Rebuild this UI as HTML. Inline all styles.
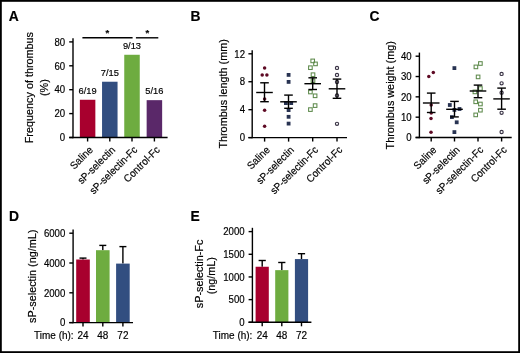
<!DOCTYPE html>
<html><head><meta charset="utf-8"><style>
html,body{margin:0;padding:0;background:#fff;}
body{width:520px;height:353px;overflow:hidden;}
svg{display:block;font-family:"Liberation Sans", sans-serif;will-change:transform;}
text{stroke:#000;stroke-width:0.18px;paint-order:stroke;}
</style></head><body>
<svg width="520" height="353" viewBox="0 0 520 353" fill="#000">
<rect x="0" y="0" width="520" height="353" fill="#fff"/>
<text transform="translate(8.70 20.60) scale(0.95 1)" font-size="14.6" text-anchor="start" font-weight="bold">A</text>
<line x1="73.00" y1="38.20" x2="73.00" y2="138.20" stroke="#000" stroke-width="1.4"/>
<line x1="69.20" y1="137.50" x2="73.00" y2="137.50" stroke="#000" stroke-width="1.4"/>
<text transform="translate(65.20 141.20) scale(0.96 1)" font-size="10.0" text-anchor="end" font-weight="normal">0</text>
<line x1="69.20" y1="113.60" x2="73.00" y2="113.60" stroke="#000" stroke-width="1.4"/>
<text transform="translate(65.20 117.30) scale(0.96 1)" font-size="10.0" text-anchor="end" font-weight="normal">20</text>
<line x1="69.20" y1="89.70" x2="73.00" y2="89.70" stroke="#000" stroke-width="1.4"/>
<text transform="translate(65.20 93.40) scale(0.96 1)" font-size="10.0" text-anchor="end" font-weight="normal">40</text>
<line x1="69.20" y1="65.80" x2="73.00" y2="65.80" stroke="#000" stroke-width="1.4"/>
<text transform="translate(65.20 69.50) scale(0.96 1)" font-size="10.0" text-anchor="end" font-weight="normal">60</text>
<line x1="69.20" y1="41.90" x2="73.00" y2="41.90" stroke="#000" stroke-width="1.4"/>
<text transform="translate(65.20 45.60) scale(0.96 1)" font-size="10.0" text-anchor="end" font-weight="normal">80</text>
<rect x="79.85" y="99.76" width="15.50" height="37.74" fill="#a8002e"/>
<text transform="translate(87.60 93.96) scale(0.96 1)" font-size="9.7" text-anchor="middle" font-weight="normal">6/19</text>
<rect x="102.05" y="81.73" width="15.50" height="55.77" fill="#324e80"/>
<text transform="translate(109.80 75.93) scale(0.96 1)" font-size="9.7" text-anchor="middle" font-weight="normal">7/15</text>
<rect x="124.25" y="54.77" width="15.50" height="82.73" fill="#6eac40"/>
<text transform="translate(132.00 48.97) scale(0.96 1)" font-size="9.7" text-anchor="middle" font-weight="normal">9/13</text>
<rect x="146.65" y="100.16" width="15.50" height="37.34" fill="#5a2869"/>
<text transform="translate(154.40 94.36) scale(0.96 1)" font-size="9.7" text-anchor="middle" font-weight="normal">5/16</text>
<line x1="69.20" y1="137.50" x2="167.60" y2="137.50" stroke="#000" stroke-width="1.4"/>
<line x1="87.60" y1="137.50" x2="87.60" y2="141.50" stroke="#000" stroke-width="1.4"/>
<line x1="109.80" y1="137.50" x2="109.80" y2="141.50" stroke="#000" stroke-width="1.4"/>
<line x1="132.00" y1="137.50" x2="132.00" y2="141.50" stroke="#000" stroke-width="1.4"/>
<line x1="154.40" y1="137.50" x2="154.40" y2="141.50" stroke="#000" stroke-width="1.4"/>
<line x1="82.40" y1="37.80" x2="132.60" y2="37.80" stroke="#000" stroke-width="1.4"/>
<line x1="135.90" y1="37.80" x2="158.30" y2="37.80" stroke="#000" stroke-width="1.4"/>
<text transform="translate(107.30 36.20)" font-size="9.5" text-anchor="middle" font-weight="bold">*</text>
<text transform="translate(147.40 36.20)" font-size="9.5" text-anchor="middle" font-weight="bold">*</text>
<text transform="translate(33.40 87.60) rotate(-90) scale(0.95 1)" font-size="11.4" text-anchor="middle" font-weight="normal">Frequency of thrombus</text>
<text transform="translate(47.60 87.60) rotate(-90) scale(0.95 1)" font-size="11.4" text-anchor="middle" font-weight="normal">(%)</text>
<text transform="translate(93.60 150.50) rotate(-45) scale(0.95 1)" font-size="10.4" text-anchor="end" font-weight="normal">Saline</text>
<text transform="translate(115.80 150.50) rotate(-45) scale(0.95 1)" font-size="10.4" text-anchor="end" font-weight="normal">sP-selectin</text>
<text transform="translate(138.00 150.50) rotate(-45) scale(0.95 1)" font-size="10.4" text-anchor="end" font-weight="normal">sP-selectin-Fc</text>
<text transform="translate(160.40 150.50) rotate(-45) scale(0.95 1)" font-size="10.4" text-anchor="end" font-weight="normal">Control-Fc</text>
<text transform="translate(190.50 20.60) scale(0.95 1)" font-size="14.6" text-anchor="start" font-weight="bold">B</text>
<line x1="252.20" y1="50.20" x2="252.20" y2="138.30" stroke="#000" stroke-width="1.4"/>
<line x1="248.40" y1="137.60" x2="252.20" y2="137.60" stroke="#000" stroke-width="1.4"/>
<text transform="translate(245.00 141.30) scale(0.96 1)" font-size="10.0" text-anchor="end" font-weight="normal">0</text>
<line x1="248.40" y1="109.67" x2="252.20" y2="109.67" stroke="#000" stroke-width="1.4"/>
<text transform="translate(245.00 113.37) scale(0.96 1)" font-size="10.0" text-anchor="end" font-weight="normal">4</text>
<line x1="248.40" y1="81.73" x2="252.20" y2="81.73" stroke="#000" stroke-width="1.4"/>
<text transform="translate(245.00 85.43) scale(0.96 1)" font-size="10.0" text-anchor="end" font-weight="normal">8</text>
<line x1="248.40" y1="53.80" x2="252.20" y2="53.80" stroke="#000" stroke-width="1.4"/>
<text transform="translate(245.00 57.50) scale(0.96 1)" font-size="10.0" text-anchor="end" font-weight="normal">12</text>
<line x1="248.40" y1="137.60" x2="347.00" y2="137.60" stroke="#000" stroke-width="1.4"/>
<line x1="264.60" y1="137.60" x2="264.60" y2="141.60" stroke="#000" stroke-width="1.4"/>
<line x1="288.60" y1="137.60" x2="288.60" y2="141.60" stroke="#000" stroke-width="1.4"/>
<line x1="312.70" y1="137.60" x2="312.70" y2="141.60" stroke="#000" stroke-width="1.4"/>
<line x1="337.00" y1="137.60" x2="337.00" y2="141.60" stroke="#000" stroke-width="1.4"/>
<text transform="translate(226.60 93.90) rotate(-90) scale(0.95 1)" font-size="11.4" text-anchor="middle" font-weight="normal">Thrombus length (mm)</text>
<text transform="translate(270.60 150.60) rotate(-45) scale(0.95 1)" font-size="10.4" text-anchor="end" font-weight="normal">Saline</text>
<text transform="translate(294.60 150.60) rotate(-45) scale(0.95 1)" font-size="10.4" text-anchor="end" font-weight="normal">sP-selectin</text>
<text transform="translate(318.70 150.60) rotate(-45) scale(0.95 1)" font-size="10.4" text-anchor="end" font-weight="normal">sP-selectin-Fc</text>
<text transform="translate(343.00 150.60) rotate(-45) scale(0.95 1)" font-size="10.4" text-anchor="end" font-weight="normal">Control-Fc</text>
<circle cx="264.60" cy="68.10" r="1.75" fill="#5e0a24"/>
<circle cx="262.20" cy="75.10" r="1.75" fill="#5e0a24"/>
<circle cx="266.90" cy="75.10" r="1.75" fill="#5e0a24"/>
<circle cx="264.60" cy="99.00" r="1.75" fill="#5e0a24"/>
<circle cx="264.60" cy="110.20" r="1.75" fill="#5e0a24"/>
<circle cx="264.60" cy="126.30" r="1.75" fill="#5e0a24"/>
<rect x="286.70" y="73.00" width="3.8" height="3.8" fill="#283352"/>
<rect x="286.70" y="80.00" width="3.8" height="3.8" fill="#283352"/>
<rect x="284.00" y="101.20" width="3.8" height="3.8" fill="#283352"/>
<rect x="289.30" y="101.20" width="3.8" height="3.8" fill="#283352"/>
<rect x="286.70" y="108.20" width="3.8" height="3.8" fill="#283352"/>
<rect x="286.70" y="114.90" width="3.8" height="3.8" fill="#283352"/>
<rect x="286.70" y="121.70" width="3.8" height="3.8" fill="#283352"/>
<rect x="310.90" y="59.10" width="3.6" height="3.6" fill="none" stroke="#5e8a4c" stroke-width="1.05"/>
<rect x="313.70" y="62.10" width="3.6" height="3.6" fill="none" stroke="#5e8a4c" stroke-width="1.05"/>
<rect x="308.60" y="65.90" width="3.6" height="3.6" fill="none" stroke="#5e8a4c" stroke-width="1.05"/>
<rect x="311.20" y="72.90" width="3.6" height="3.6" fill="none" stroke="#5e8a4c" stroke-width="1.05"/>
<rect x="311.20" y="78.90" width="3.6" height="3.6" fill="none" stroke="#5e8a4c" stroke-width="1.05"/>
<rect x="308.60" y="90.20" width="3.6" height="3.6" fill="none" stroke="#5e8a4c" stroke-width="1.05"/>
<rect x="313.30" y="94.00" width="3.6" height="3.6" fill="none" stroke="#5e8a4c" stroke-width="1.05"/>
<rect x="313.30" y="103.80" width="3.6" height="3.6" fill="none" stroke="#5e8a4c" stroke-width="1.05"/>
<rect x="308.60" y="107.80" width="3.6" height="3.6" fill="none" stroke="#5e8a4c" stroke-width="1.05"/>
<circle cx="337.00" cy="67.90" r="1.6" fill="none" stroke="#3a3446" stroke-width="1.15"/>
<circle cx="337.00" cy="74.90" r="1.6" fill="none" stroke="#3a3446" stroke-width="1.15"/>
<circle cx="337.00" cy="81.90" r="1.6" fill="none" stroke="#3a3446" stroke-width="1.15"/>
<circle cx="337.00" cy="95.40" r="1.6" fill="none" stroke="#3a3446" stroke-width="1.15"/>
<circle cx="337.00" cy="123.80" r="1.6" fill="none" stroke="#3a3446" stroke-width="1.15"/>
<line x1="256.20" y1="92.50" x2="272.80" y2="92.50" stroke="#000" stroke-width="1.4"/>
<line x1="264.50" y1="82.80" x2="264.50" y2="101.70" stroke="#000" stroke-width="1.4"/>
<line x1="260.20" y1="82.80" x2="268.80" y2="82.80" stroke="#000" stroke-width="1.4"/>
<line x1="260.20" y1="101.70" x2="268.80" y2="101.70" stroke="#000" stroke-width="1.4"/>
<line x1="280.20" y1="101.80" x2="296.80" y2="101.80" stroke="#000" stroke-width="1.4"/>
<line x1="288.50" y1="95.10" x2="288.50" y2="108.30" stroke="#000" stroke-width="1.4"/>
<line x1="284.20" y1="95.10" x2="292.80" y2="95.10" stroke="#000" stroke-width="1.4"/>
<line x1="284.20" y1="108.30" x2="292.80" y2="108.30" stroke="#000" stroke-width="1.4"/>
<line x1="304.40" y1="83.70" x2="321.00" y2="83.70" stroke="#000" stroke-width="1.4"/>
<line x1="312.70" y1="77.80" x2="312.70" y2="89.50" stroke="#000" stroke-width="1.4"/>
<line x1="308.40" y1="77.80" x2="317.00" y2="77.80" stroke="#000" stroke-width="1.4"/>
<line x1="308.40" y1="89.50" x2="317.00" y2="89.50" stroke="#000" stroke-width="1.4"/>
<line x1="328.70" y1="88.80" x2="345.30" y2="88.80" stroke="#000" stroke-width="1.4"/>
<line x1="337.00" y1="79.10" x2="337.00" y2="98.30" stroke="#000" stroke-width="1.4"/>
<line x1="332.70" y1="79.10" x2="341.30" y2="79.10" stroke="#000" stroke-width="1.4"/>
<line x1="332.70" y1="98.30" x2="341.30" y2="98.30" stroke="#000" stroke-width="1.4"/>
<text transform="translate(369.50 20.60) scale(0.95 1)" font-size="14.6" text-anchor="start" font-weight="bold">C</text>
<line x1="419.40" y1="52.60" x2="419.40" y2="138.20" stroke="#000" stroke-width="1.4"/>
<line x1="415.60" y1="137.50" x2="419.40" y2="137.50" stroke="#000" stroke-width="1.4"/>
<text transform="translate(411.60 141.20) scale(0.96 1)" font-size="10.0" text-anchor="end" font-weight="normal">0</text>
<line x1="415.60" y1="117.18" x2="419.40" y2="117.18" stroke="#000" stroke-width="1.4"/>
<text transform="translate(411.60 120.88) scale(0.96 1)" font-size="10.0" text-anchor="end" font-weight="normal">10</text>
<line x1="415.60" y1="96.85" x2="419.40" y2="96.85" stroke="#000" stroke-width="1.4"/>
<text transform="translate(411.60 100.55) scale(0.96 1)" font-size="10.0" text-anchor="end" font-weight="normal">20</text>
<line x1="415.60" y1="76.53" x2="419.40" y2="76.53" stroke="#000" stroke-width="1.4"/>
<text transform="translate(411.60 80.23) scale(0.96 1)" font-size="10.0" text-anchor="end" font-weight="normal">30</text>
<line x1="415.60" y1="56.20" x2="419.40" y2="56.20" stroke="#000" stroke-width="1.4"/>
<text transform="translate(411.60 59.90) scale(0.96 1)" font-size="10.0" text-anchor="end" font-weight="normal">40</text>
<line x1="415.60" y1="137.50" x2="511.70" y2="137.50" stroke="#000" stroke-width="1.4"/>
<line x1="431.20" y1="137.50" x2="431.20" y2="141.50" stroke="#000" stroke-width="1.4"/>
<line x1="454.50" y1="137.50" x2="454.50" y2="141.50" stroke="#000" stroke-width="1.4"/>
<line x1="478.00" y1="137.50" x2="478.00" y2="141.50" stroke="#000" stroke-width="1.4"/>
<line x1="501.60" y1="137.50" x2="501.60" y2="141.50" stroke="#000" stroke-width="1.4"/>
<text transform="translate(393.60 95.30) rotate(-90) scale(0.95 1)" font-size="11.4" text-anchor="middle" font-weight="normal">Thrombus weight (mg)</text>
<text transform="translate(437.20 150.50) rotate(-45) scale(0.95 1)" font-size="10.4" text-anchor="end" font-weight="normal">Saline</text>
<text transform="translate(460.50 150.50) rotate(-45) scale(0.95 1)" font-size="10.4" text-anchor="end" font-weight="normal">sP-selectin</text>
<text transform="translate(484.00 150.50) rotate(-45) scale(0.95 1)" font-size="10.4" text-anchor="end" font-weight="normal">sP-selectin-Fc</text>
<text transform="translate(507.60 150.50) rotate(-45) scale(0.95 1)" font-size="10.4" text-anchor="end" font-weight="normal">Control-Fc</text>
<circle cx="433.30" cy="72.60" r="1.75" fill="#5e0a24"/>
<circle cx="428.80" cy="76.50" r="1.75" fill="#5e0a24"/>
<circle cx="431.20" cy="104.90" r="1.75" fill="#5e0a24"/>
<circle cx="431.20" cy="112.90" r="1.75" fill="#5e0a24"/>
<circle cx="431.00" cy="118.60" r="1.75" fill="#5e0a24"/>
<circle cx="431.00" cy="132.20" r="1.75" fill="#5e0a24"/>
<rect x="452.50" y="66.20" width="3.8" height="3.8" fill="#283352"/>
<rect x="447.90" y="103.10" width="3.8" height="3.8" fill="#283352"/>
<rect x="452.50" y="108.00" width="3.8" height="3.8" fill="#283352"/>
<rect x="457.60" y="107.10" width="3.8" height="3.8" fill="#283352"/>
<rect x="450.00" y="115.20" width="3.8" height="3.8" fill="#283352"/>
<rect x="454.80" y="120.40" width="3.8" height="3.8" fill="#283352"/>
<rect x="452.50" y="130.20" width="3.8" height="3.8" fill="#283352"/>
<rect x="478.60" y="61.70" width="3.6" height="3.6" fill="none" stroke="#5e8a4c" stroke-width="1.05"/>
<rect x="474.10" y="65.10" width="3.6" height="3.6" fill="none" stroke="#5e8a4c" stroke-width="1.05"/>
<rect x="476.30" y="75.10" width="3.6" height="3.6" fill="none" stroke="#5e8a4c" stroke-width="1.05"/>
<rect x="478.60" y="86.70" width="3.6" height="3.6" fill="none" stroke="#5e8a4c" stroke-width="1.05"/>
<rect x="473.10" y="90.10" width="3.6" height="3.6" fill="none" stroke="#5e8a4c" stroke-width="1.05"/>
<rect x="473.90" y="100.00" width="3.6" height="3.6" fill="none" stroke="#5e8a4c" stroke-width="1.05"/>
<rect x="478.60" y="102.20" width="3.6" height="3.6" fill="none" stroke="#5e8a4c" stroke-width="1.05"/>
<rect x="478.60" y="108.40" width="3.6" height="3.6" fill="none" stroke="#5e8a4c" stroke-width="1.05"/>
<rect x="473.90" y="113.10" width="3.6" height="3.6" fill="none" stroke="#5e8a4c" stroke-width="1.05"/>
<circle cx="501.60" cy="73.90" r="1.6" fill="none" stroke="#3a3446" stroke-width="1.15"/>
<circle cx="501.60" cy="83.30" r="1.6" fill="none" stroke="#3a3446" stroke-width="1.15"/>
<circle cx="501.60" cy="92.70" r="1.6" fill="none" stroke="#3a3446" stroke-width="1.15"/>
<circle cx="501.60" cy="112.80" r="1.6" fill="none" stroke="#3a3446" stroke-width="1.15"/>
<circle cx="501.60" cy="132.00" r="1.6" fill="none" stroke="#3a3446" stroke-width="1.15"/>
<line x1="422.90" y1="103.00" x2="439.50" y2="103.00" stroke="#000" stroke-width="1.4"/>
<line x1="431.20" y1="93.10" x2="431.20" y2="112.50" stroke="#000" stroke-width="1.4"/>
<line x1="426.90" y1="93.10" x2="435.50" y2="93.10" stroke="#000" stroke-width="1.4"/>
<line x1="426.90" y1="112.50" x2="435.50" y2="112.50" stroke="#000" stroke-width="1.4"/>
<line x1="446.20" y1="109.30" x2="462.80" y2="109.30" stroke="#000" stroke-width="1.4"/>
<line x1="454.50" y1="101.40" x2="454.50" y2="116.90" stroke="#000" stroke-width="1.4"/>
<line x1="450.20" y1="101.40" x2="458.80" y2="101.40" stroke="#000" stroke-width="1.4"/>
<line x1="450.20" y1="116.90" x2="458.80" y2="116.90" stroke="#000" stroke-width="1.4"/>
<line x1="469.70" y1="91.00" x2="486.30" y2="91.00" stroke="#000" stroke-width="1.4"/>
<line x1="478.00" y1="85.10" x2="478.00" y2="97.70" stroke="#000" stroke-width="1.4"/>
<line x1="473.70" y1="85.10" x2="482.30" y2="85.10" stroke="#000" stroke-width="1.4"/>
<line x1="473.70" y1="97.70" x2="482.30" y2="97.70" stroke="#000" stroke-width="1.4"/>
<line x1="493.30" y1="98.90" x2="509.90" y2="98.90" stroke="#000" stroke-width="1.4"/>
<line x1="501.60" y1="88.10" x2="501.60" y2="109.20" stroke="#000" stroke-width="1.4"/>
<line x1="497.30" y1="88.10" x2="505.90" y2="88.10" stroke="#000" stroke-width="1.4"/>
<line x1="497.30" y1="109.20" x2="505.90" y2="109.20" stroke="#000" stroke-width="1.4"/>
<text transform="translate(9.00 220.60) scale(0.95 1)" font-size="14.6" text-anchor="start" font-weight="bold">D</text>
<line x1="73.10" y1="229.50" x2="73.10" y2="323.30" stroke="#000" stroke-width="1.4"/>
<line x1="69.30" y1="322.60" x2="73.10" y2="322.60" stroke="#000" stroke-width="1.4"/>
<text transform="translate(65.30 326.30) scale(0.96 1)" font-size="10.0" text-anchor="end" font-weight="normal">0</text>
<line x1="69.30" y1="292.80" x2="73.10" y2="292.80" stroke="#000" stroke-width="1.4"/>
<text transform="translate(65.30 296.50) scale(0.96 1)" font-size="10.0" text-anchor="end" font-weight="normal">2000</text>
<line x1="69.30" y1="263.00" x2="73.10" y2="263.00" stroke="#000" stroke-width="1.4"/>
<text transform="translate(65.30 266.70) scale(0.96 1)" font-size="10.0" text-anchor="end" font-weight="normal">4000</text>
<line x1="69.30" y1="233.20" x2="73.10" y2="233.20" stroke="#000" stroke-width="1.4"/>
<text transform="translate(65.30 236.90) scale(0.96 1)" font-size="10.0" text-anchor="end" font-weight="normal">6000</text>
<line x1="83.00" y1="258.10" x2="83.00" y2="259.50" stroke="#000" stroke-width="1.4"/>
<line x1="79.50" y1="258.10" x2="86.50" y2="258.10" stroke="#000" stroke-width="1.4"/>
<rect x="76.20" y="259.50" width="13.60" height="63.10" fill="#a8002e"/>
<line x1="102.80" y1="245.40" x2="102.80" y2="250.20" stroke="#000" stroke-width="1.4"/>
<line x1="99.30" y1="245.40" x2="106.30" y2="245.40" stroke="#000" stroke-width="1.4"/>
<rect x="96.00" y="250.20" width="13.60" height="72.40" fill="#6eac40"/>
<line x1="122.90" y1="246.61" x2="122.90" y2="263.60" stroke="#000" stroke-width="1.4"/>
<line x1="119.40" y1="246.61" x2="126.40" y2="246.61" stroke="#000" stroke-width="1.4"/>
<rect x="116.10" y="263.60" width="13.60" height="59.00" fill="#324e80"/>
<line x1="69.20" y1="322.60" x2="133.00" y2="322.60" stroke="#000" stroke-width="1.4"/>
<line x1="83.00" y1="322.60" x2="83.00" y2="326.60" stroke="#000" stroke-width="1.4"/>
<line x1="102.80" y1="322.60" x2="102.80" y2="326.60" stroke="#000" stroke-width="1.4"/>
<line x1="122.90" y1="322.60" x2="122.90" y2="326.60" stroke="#000" stroke-width="1.4"/>
<text transform="translate(36.30 276.30) rotate(-90) scale(0.95 1)" font-size="11.4" text-anchor="middle" font-weight="normal">sP-selectin (ng/mL)</text>
<text transform="translate(73.60 338.80) scale(0.96 1)" font-size="10.4" text-anchor="end" font-weight="normal">Time (h):</text>
<text transform="translate(83.00 338.80) scale(0.96 1)" font-size="10.4" text-anchor="middle" font-weight="normal">24</text>
<text transform="translate(102.80 338.80) scale(0.96 1)" font-size="10.4" text-anchor="middle" font-weight="normal">48</text>
<text transform="translate(122.90 338.80) scale(0.96 1)" font-size="10.4" text-anchor="middle" font-weight="normal">72</text>
<text transform="translate(190.60 220.60) scale(0.95 1)" font-size="14.6" text-anchor="start" font-weight="bold">E</text>
<line x1="252.40" y1="227.80" x2="252.40" y2="323.00" stroke="#000" stroke-width="1.4"/>
<line x1="248.60" y1="322.30" x2="252.40" y2="322.30" stroke="#000" stroke-width="1.4"/>
<text transform="translate(244.60 326.00) scale(0.96 1)" font-size="10.0" text-anchor="end" font-weight="normal">0</text>
<line x1="248.60" y1="299.62" x2="252.40" y2="299.62" stroke="#000" stroke-width="1.4"/>
<text transform="translate(244.60 303.32) scale(0.96 1)" font-size="10.0" text-anchor="end" font-weight="normal">500</text>
<line x1="248.60" y1="276.95" x2="252.40" y2="276.95" stroke="#000" stroke-width="1.4"/>
<text transform="translate(244.60 280.65) scale(0.96 1)" font-size="10.0" text-anchor="end" font-weight="normal">1000</text>
<line x1="248.60" y1="254.28" x2="252.40" y2="254.28" stroke="#000" stroke-width="1.4"/>
<text transform="translate(244.60 257.98) scale(0.96 1)" font-size="10.0" text-anchor="end" font-weight="normal">1500</text>
<line x1="248.60" y1="231.60" x2="252.40" y2="231.60" stroke="#000" stroke-width="1.4"/>
<text transform="translate(244.60 235.30) scale(0.96 1)" font-size="10.0" text-anchor="end" font-weight="normal">2000</text>
<line x1="262.20" y1="260.49" x2="262.20" y2="266.75" stroke="#000" stroke-width="1.4"/>
<line x1="258.60" y1="260.49" x2="265.80" y2="260.49" stroke="#000" stroke-width="1.4"/>
<rect x="255.60" y="266.75" width="13.20" height="55.55" fill="#a8002e"/>
<line x1="281.80" y1="262.48" x2="281.80" y2="270.15" stroke="#000" stroke-width="1.4"/>
<line x1="278.20" y1="262.48" x2="285.40" y2="262.48" stroke="#000" stroke-width="1.4"/>
<rect x="275.20" y="270.15" width="13.20" height="52.15" fill="#6eac40"/>
<line x1="301.50" y1="253.69" x2="301.50" y2="259.08" stroke="#000" stroke-width="1.4"/>
<line x1="297.90" y1="253.69" x2="305.10" y2="253.69" stroke="#000" stroke-width="1.4"/>
<rect x="294.90" y="259.08" width="13.20" height="63.22" fill="#324e80"/>
<line x1="248.50" y1="322.30" x2="311.40" y2="322.30" stroke="#000" stroke-width="1.4"/>
<line x1="262.20" y1="322.30" x2="262.20" y2="326.30" stroke="#000" stroke-width="1.4"/>
<line x1="281.80" y1="322.30" x2="281.80" y2="326.30" stroke="#000" stroke-width="1.4"/>
<line x1="301.50" y1="322.30" x2="301.50" y2="326.30" stroke="#000" stroke-width="1.4"/>
<text transform="translate(202.50 273.90) rotate(-90) scale(0.95 1)" font-size="11.4" text-anchor="middle" font-weight="normal">sP-selectin-Fc</text>
<text transform="translate(215.00 275.70) rotate(-90) scale(0.95 1)" font-size="11.4" text-anchor="middle" font-weight="normal">(ng/mL)</text>
<text transform="translate(252.40 338.50) scale(0.96 1)" font-size="10.4" text-anchor="end" font-weight="normal">Time (h):</text>
<text transform="translate(262.20 338.50) scale(0.96 1)" font-size="10.4" text-anchor="middle" font-weight="normal">24</text>
<text transform="translate(281.80 338.50) scale(0.96 1)" font-size="10.4" text-anchor="middle" font-weight="normal">48</text>
<text transform="translate(301.50 338.50) scale(0.96 1)" font-size="10.4" text-anchor="middle" font-weight="normal">72</text>
<rect x="0.9" y="0.9" width="518.2" height="351.2" fill="none" stroke="#000" stroke-width="1.8"/>
</svg>
</body></html>
